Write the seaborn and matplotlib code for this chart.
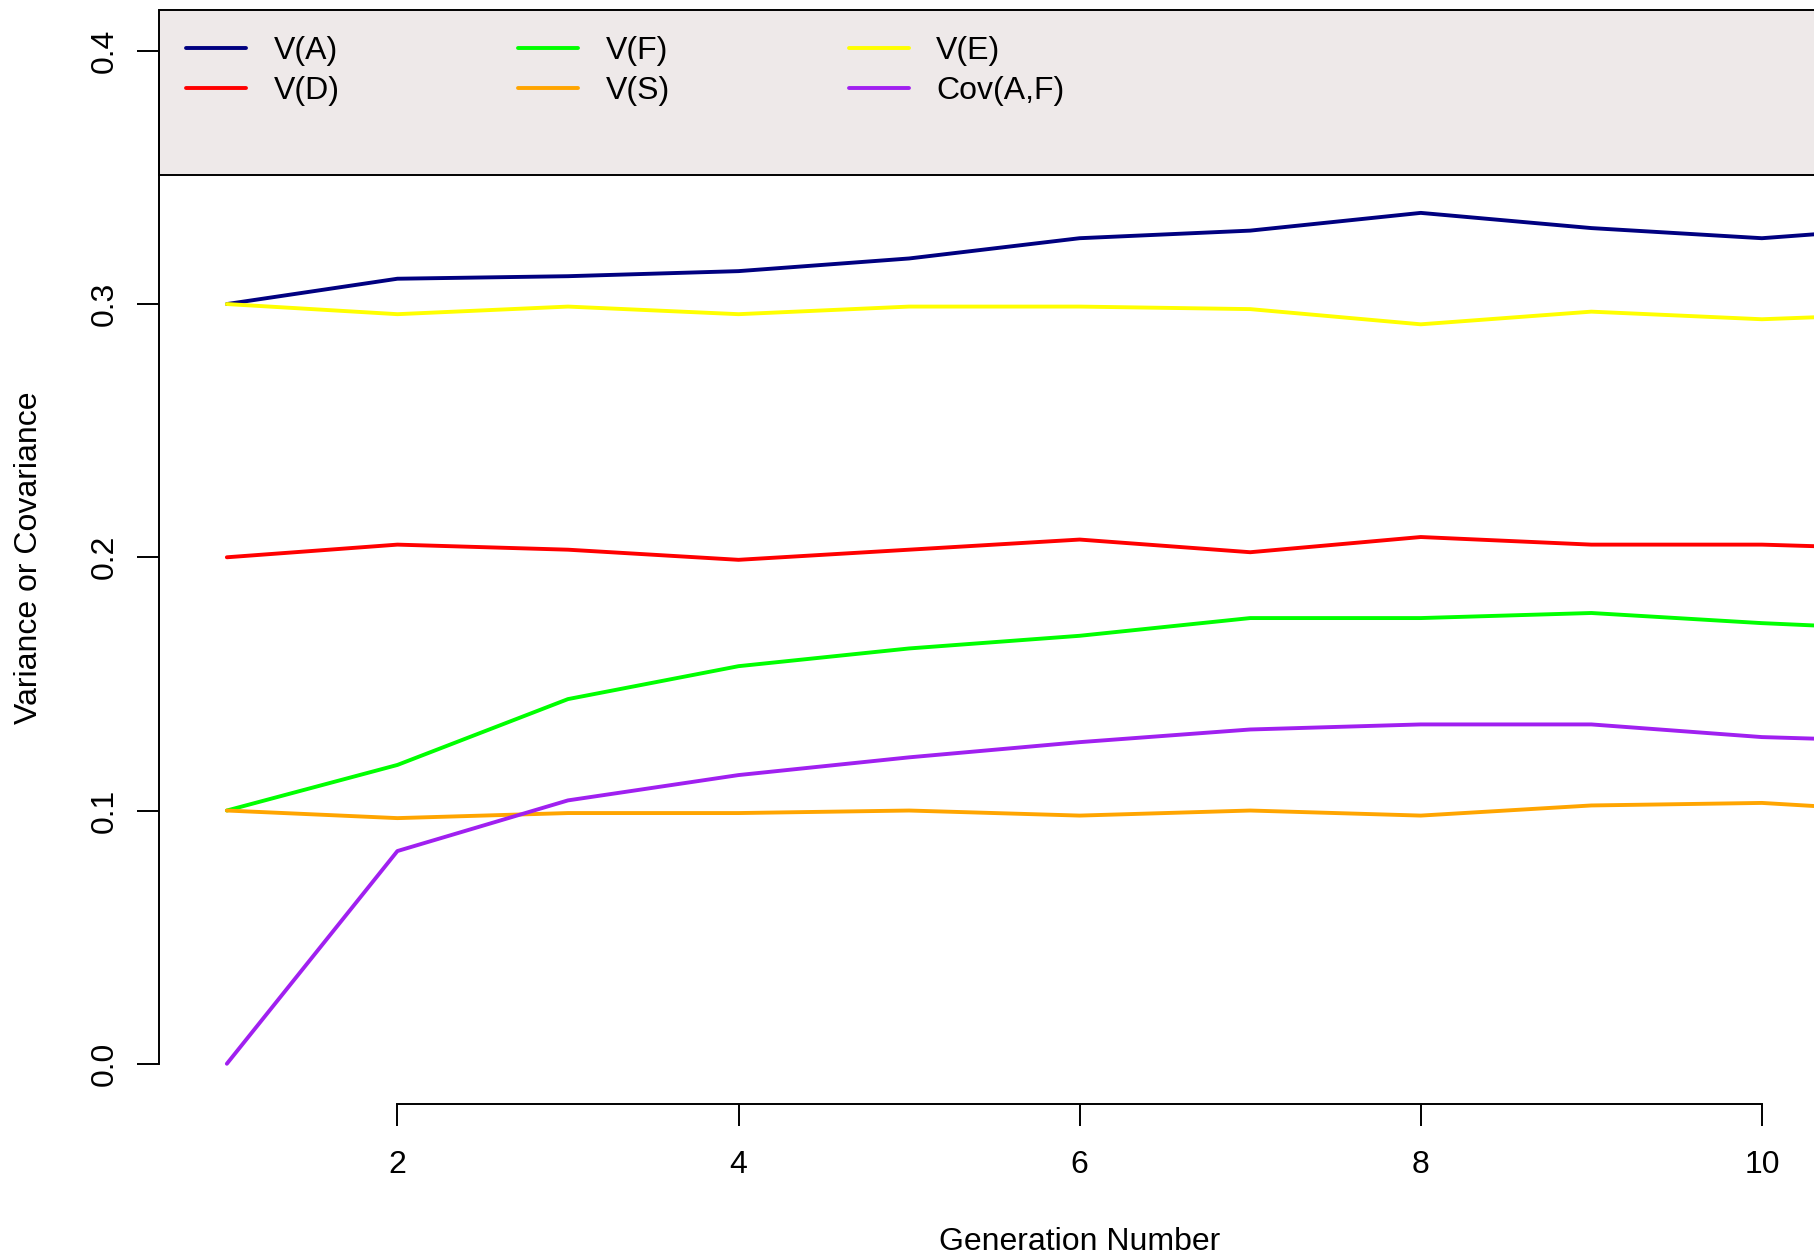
import pandas as pd
import matplotlib
matplotlib.use('Agg')
import matplotlib.pyplot as plt
from matplotlib.lines import Line2D
from matplotlib.patches import Rectangle
import seaborn as sns

# values, one entry per generation
generation = list(range(1, 12))
v_a = [0.300, 0.310, 0.311, 0.313, 0.318, 0.326, 0.329, 0.336, 0.330, 0.326, 0.331]
v_d = [0.200, 0.205, 0.203, 0.199, 0.203, 0.207, 0.202, 0.208, 0.205, 0.205, 0.203]
v_f = [0.100, 0.118, 0.144, 0.157, 0.164, 0.169, 0.176, 0.176, 0.178, 0.174, 0.171]
v_s = [0.100, 0.097, 0.099, 0.099, 0.100, 0.098, 0.100, 0.098, 0.102, 0.103, 0.099]
v_e = [0.300, 0.296, 0.299, 0.296, 0.299, 0.299, 0.298, 0.292, 0.297, 0.294, 0.2965]
cov_af = [0.000, 0.084, 0.104, 0.114, 0.121, 0.127, 0.132, 0.134, 0.134, 0.129, 0.127]

series_names = ['V(A)', 'V(D)', 'V(F)', 'V(S)', 'V(E)', 'Cov(A,F)']
series_colors = ['#000080', '#FF0000', '#00FF00', '#FFA500', '#FFFF00', '#A020F0']
x_ticks = [2, 4, 6, 8, 10]
y_ticks = [0.0, 0.1, 0.2, 0.3, 0.4]
y_tick_labels = ['0.0', '0.1', '0.2', '0.3', '0.4']

sns.set_style('white')
plt.rcParams['font.family'] = ['Liberation Sans', 'DejaVu Sans']
plt.rcParams['text.color'] = 'black'
plt.rcParams['axes.labelcolor'] = 'black'

values = [v_a, v_d, v_f, v_s, v_e, cov_af]
df = pd.DataFrame({
    'Generation': generation * len(series_names),
    'Value': [v for vals in values for v in vals],
    'Series': [name for name in series_names for _ in generation],
})
palette = dict(zip(series_names, series_colors))

fig = plt.figure(figsize=(18.15, 12.56), dpi=100)
# plot region runs past the right edge, as in the reference
ax = fig.add_axes([0.0874, 0.1208, 1.0149, 0.871])

sns.lineplot(data=df, x='Generation', y='Value', hue='Series',
             hue_order=series_names, palette=palette, linewidth=2.8,
             errorbar=None, legend=False, ax=ax)

ax.set_xlim(0.6, 11.4)
ax.set_ylim(-0.016, 0.416)
ax.set_xticks(x_ticks)
ax.set_xticklabels([str(t) for t in x_ticks])
ax.set_yticks(y_ticks)
ax.set_yticklabels(y_tick_labels, rotation=90, va='center')

for side in ['top', 'right']:
    ax.spines[side].set_visible(False)
for side in ['left', 'bottom']:
    ax.spines[side].set_linewidth(1.4)
    ax.spines[side].set_color('black')
ax.spines['left'].set_bounds(0, 0.4)
ax.spines['bottom'].set_bounds(2, 10)

ax.tick_params(axis='both', bottom=True, left=True, direction='out',
               length=15.8, width=1.4, color='black', labelsize=23,
               labelcolor='black')
ax.tick_params(axis='x', pad=17.3)
ax.tick_params(axis='y', pad=12.4)

ax.set_xlabel('Generation Number', fontsize=23, va='center', color='black')
ax.xaxis.set_label_coords(0.5, -0.1259)
ax.set_ylabel('Variance or Covariance', fontsize=23, va='center', color='black')
ax.yaxis.set_label_coords(-0.0704, 0.5)

# legend panel across the top of the plot region
ax.add_patch(Rectangle((0, 0.351), 1, 0.416 - 0.351,
                       transform=ax.get_yaxis_transform(),
                       facecolor='#EEE9E9', edgecolor='black',
                       linewidth=1.4, zorder=0.5, clip_on=False))

handles = [Line2D([], [], color=c, linewidth=2.8) for c in series_colors]
ax.legend(handles, series_names, ncol=3, loc='upper left',
          bbox_to_anchor=(0.1025, 0.9714), bbox_transform=fig.transFigure,
          frameon=False, fontsize=23, handlelength=1.875, handletextpad=0.86,
          columnspacing=5.6, labelspacing=0.32, borderpad=0, borderaxespad=0,
          labelcolor='black')

fig.savefig('out.png', dpi=100)
